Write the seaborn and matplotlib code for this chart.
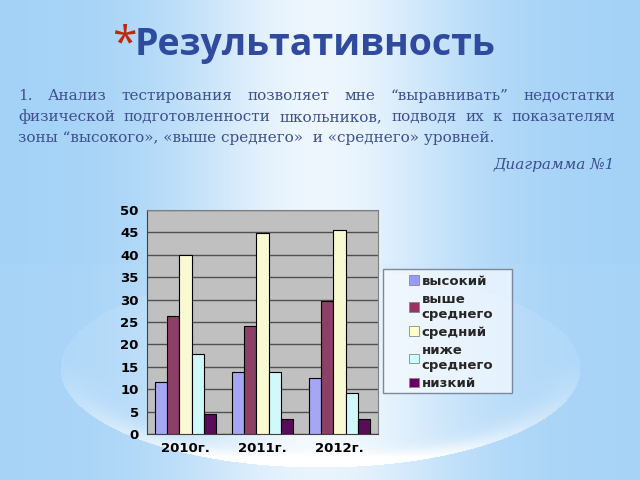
import numpy as np
import pandas as pd
import matplotlib
matplotlib.use("Agg")
import matplotlib.pyplot as plt
import seaborn as sns
from matplotlib.patches import Patch, Rectangle

# ------------------------
# data
# ------------------------
years = ["2010г.", "2011г.", "2012г."]
levels = ["высокий", "выше\nсреднего", "средний", "ниже\nсреднего", "низкий"]
vysokiy = [11.5, 13.8, 12.6]
vyshe_srednego = [26.3, 24.1, 29.6]
sredniy = [39.9, 44.9, 45.5]
nizhe_srednego = [17.8, 13.8, 9.1]
nizkiy = [4.5, 3.4, 3.3]
colors = ["#9999ff", "#993366", "#ffffcc", "#ccffff", "#660066"]
y_ticks = [0, 5, 10, 15, 20, 25, 30, 35, 40, 45, 50]

title = "Результативность"
body_lines = [
    "1. Анализ тестирования позволяет мне “выравнивать” недостатки",
    "физической подготовленности школьников, подводя их к показателям",
    "зоны “высокого», «выше среднего»  и «среднего» уровней.",
]
caption = "Диаграмма №1"

series = [vysokiy, vyshe_srednego, sredniy, nizhe_srednego, nizkiy]
df = pd.DataFrame(
    [(y, lev, vals[i]) for lev, vals in zip(levels, series) for i, y in enumerate(years)],
    columns=["year", "level", "value"],
)

sns.set_style("white")
plt.rcParams["font.family"] = ["DejaVu Sans"]

W, H = 640, 480
fig = plt.figure(figsize=(6.4, 4.8), dpi=100)

# ------------------------
# slide background (decorative gradient)
# ------------------------
xx, yy = np.meshgrid(np.arange(W), np.arange(H))
blue = np.array([164, 210, 247]) / 255.0
white = np.array([1.0, 1.0, 1.0])
col = np.exp(-((xx - 320) / 140.0) ** 2)
col = np.where(yy < 264, col * 0.9, 0.04 + col * 0.8)
ell = ((xx - 320) / 260.0) ** 2 + ((yy - 368) / 99.0) ** 2
rim = np.exp(-((1.0 - ell) / 0.2) ** 2) * np.clip((yy - 360) / 90.0, 0, 1)
inside = np.clip(0.08 + 0.45 * rim + 0.95 * col, 0, 1)
w = np.where(ell < 1.0, np.maximum(inside, col), col * 0.9)
img = blue[None, None, :] * (1 - w[..., None]) + white[None, None, :] * w[..., None]
bg = fig.add_axes([0, 0, 1, 1])
bg.imshow(img, aspect="auto", extent=[0, W, H, 0])
bg.set_xlim(0, W)
bg.set_ylim(H, 0)
bg.axis("off")

# ------------------------
# texts
# ------------------------
bg.text(112, 45, "*", color="#c0280e", fontsize=32, family="Open Sans",
        ha="left", va="center")
bg.text(135, 45, title, color="#2f4a9e", fontsize=27, fontweight="bold",
        family="Open Sans", ha="left", va="center")

text_color = "#3d4f8f"
renderer = fig.canvas.get_renderer()
x0, x1 = 18, 615
line_y = [96, 117, 138]
for k, line in enumerate(body_lines):
    words = [wd for wd in line.split(" ") if wd != ""]
    if k < len(body_lines) - 1:
        objs = [bg.text(0, line_y[k], wd, color=text_color, fontsize=11,
                        family="DejaVu Serif", va="center", ha="left") for wd in words]
        widths = [t.get_window_extent(renderer).width for t in objs]
        gap = (x1 - x0 - sum(widths)) / (len(words) - 1)
        pos = x0
        for t, wd in zip(objs, widths):
            t.set_x(pos)
            pos += wd + gap
    else:
        bg.text(x0, line_y[k], line, color=text_color, fontsize=11,
                family="DejaVu Serif", va="center", ha="left")

bg.text(615, 165, caption, color=text_color, fontsize=11, style="italic",
        family="DejaVu Serif", va="center", ha="right")

# ------------------------
# chart
# ------------------------
ax = fig.add_axes([147 / W, 1 - 434 / H, (378 - 147) / W, (434 - 210) / H])
ax.set_facecolor("#c0c0c0")
sns.barplot(data=df, x="year", y="value", hue="level", hue_order=levels,
            palette=colors, edgecolor="black", linewidth=0.8, legend=False,
            ax=ax, zorder=3)
ax.set_ylim(0, 50)
ax.set_yticks(y_ticks)
ax.grid(axis="y", color="#505050", linewidth=1.0, zorder=0)
ax.set_axisbelow(True)
ax.set_xlabel("")
ax.set_ylabel("")
ax.set_xlim(-0.5, 2.5)
ax.set_xticks([-0.5, 0.5, 1.5, 2.5], minor=True)
ax.tick_params(axis="x", which="major", length=0, pad=6)
ax.tick_params(axis="x", which="minor", length=4, color="#444444")
ax.tick_params(axis="y", length=4, color="#444444", pad=2)
for lab in ax.get_xticklabels() + ax.get_yticklabels():
    lab.set_fontweight("bold")
    lab.set_fontsize(9.5)
    lab.set_color("black")
for s in ["top", "right"]:
    ax.spines[s].set_color("#808080")
for s in ["left", "bottom"]:
    ax.spines[s].set_color("#404040")

# legend box
bg.add_patch(Rectangle((383, 269), 129, 124, facecolor="#f4f9ff", alpha=0.75,
                       edgecolor="none", zorder=2))
bg.add_patch(Rectangle((383, 269), 129, 124, facecolor="none",
                       edgecolor="#7a8a9a", linewidth=1.0, zorder=3))
handles = [Patch(facecolor=c, edgecolor="#888888", linewidth=0.6) for c in colors]
leg = fig.legend(handles, levels, loc="upper left",
                 bbox_to_anchor=(406 / W, 1 - 272 / H), borderaxespad=0,
                 frameon=False, handlelength=0.75, handleheight=0.75,
                 handletextpad=0.25, labelspacing=0.39, borderpad=0.2,
                 prop={"weight": "bold", "size": 9.5})

fig.savefig("out.png", dpi=100)
